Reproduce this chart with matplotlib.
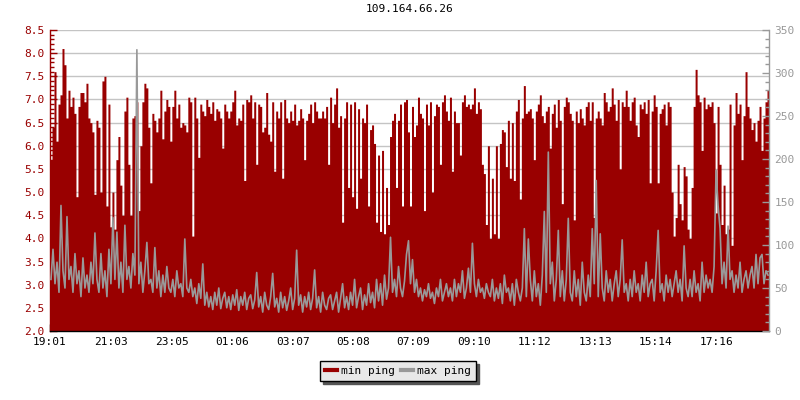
import matplotlib
matplotlib.use("Agg")
import matplotlib.pyplot as plt
from matplotlib.ticker import MultipleLocator, FormatStrFormatter
from matplotlib.lines import Line2D
import numpy as np

title = "109.164.66.26"
series_names = ["min ping", "max ping"]
tick_labels = ["19:01", "21:03", "23:05", "01:06", "03:07", "05:08",
               "07:09", "09:10", "11:12", "13:13", "15:14", "17:16"]
step_minutes = 4
span_minutes = 1440

min_ping = [
    5.7, 6.4, 7.6, 6.1, 6.9, 7.1, 8.1, 7.75, 6.6, 7.2,
    6.85, 7.05, 6.7, 4.9, 6.85, 7.15, 7.15, 6.95, 7.35, 6.6,
    6.5, 6.3, 4.95, 6.55, 6.4, 5.0, 7.4, 7.5, 4.7, 6.9,
    4.25, 5.0, 4.2, 5.7, 6.2, 5.15, 4.5, 6.75, 7.05, 5.6,
    4.5, 6.6, 6.65, 6.95, 4.6, 6.0, 6.95, 7.35, 7.25, 6.4,
    5.2, 6.7, 6.55, 6.3, 6.6, 7.2, 6.15, 6.75, 7.0, 6.85,
    6.1, 6.85, 7.2, 6.6, 6.9, 6.4, 6.5, 6.45, 6.3, 7.05,
    6.95, 4.05, 7.05, 6.6, 5.75, 6.9, 6.75, 6.65, 7.0, 6.85,
    6.7, 6.95, 6.55, 6.8, 6.75, 6.6, 5.95, 6.9, 6.75, 6.6,
    6.75, 6.95, 7.2, 6.45, 6.6, 6.55, 6.9, 5.25, 7.0, 6.95,
    7.1, 6.6, 6.95, 5.6, 6.9, 6.85, 6.3, 6.4, 7.15, 6.25,
    6.1, 6.95, 5.45, 6.75, 6.6, 6.95, 5.3, 7.0, 6.6, 6.5,
    6.75, 6.55, 6.9, 6.45, 6.55, 6.8, 6.6, 5.7, 6.55, 6.7,
    6.9, 6.5, 6.95, 6.75, 6.6, 6.6, 6.75, 6.6, 6.85, 5.6,
    7.05, 6.5, 6.9, 7.25, 6.4, 6.65, 4.35, 6.6, 6.95, 5.1,
    6.9, 4.9, 6.95, 4.65, 6.8, 5.3, 6.6, 6.5, 6.9, 4.7,
    6.35, 6.45, 6.05, 4.35, 5.8, 4.15, 5.9, 4.1, 5.1, 4.3,
    6.2, 6.55, 6.7, 5.1, 6.55, 6.9, 4.7, 6.95, 7.0, 6.3,
    4.7, 6.85, 6.2, 6.45, 7.05, 6.7, 6.6, 4.6, 6.9, 6.45,
    6.95, 5.0, 6.65, 6.9, 6.85, 5.6, 6.95, 7.1, 6.75, 6.55,
    7.05, 5.45, 6.75, 6.5, 6.5, 5.8, 6.95, 7.1, 6.85, 6.9,
    6.8, 6.9, 7.25, 6.7, 6.95, 6.8, 5.6, 5.4, 4.3, 6.0,
    4.0, 5.3, 4.1, 6.0, 4.0, 6.05, 6.35, 6.3, 5.55, 6.55,
    5.3, 6.5, 5.25, 6.75, 7.0, 4.85, 6.6, 7.3, 6.7, 6.75,
    6.8, 6.6, 5.7, 6.75, 6.9, 7.1, 6.65, 6.5, 6.75, 6.85,
    5.95, 6.7, 6.9, 6.4, 7.0, 6.55, 4.75, 6.85, 7.05, 6.95,
    6.7, 6.55, 4.4, 6.75, 6.5, 6.8, 6.6, 6.45, 6.85, 6.95,
    6.55, 6.95, 4.45, 6.6, 6.75, 6.6, 6.45, 7.15, 6.95, 6.75,
    6.85, 7.25, 6.9, 6.55, 7.0, 5.5, 6.95, 6.85, 7.2, 6.85,
    6.55, 6.95, 7.05, 6.45, 6.2, 6.9, 6.8, 6.95, 6.7, 7.0,
    5.2, 6.75, 7.1, 6.85, 5.2, 6.7, 6.8, 6.9, 6.45, 6.95,
    6.85, 5.0, 4.05, 4.45, 5.6, 4.75, 4.4, 5.55, 5.35, 4.2,
    4.0, 5.1, 6.85, 7.65, 7.1, 6.95, 5.9, 7.05, 6.8, 6.9,
    6.85, 6.95, 6.5, 4.55, 6.85, 5.6, 4.3, 5.15, 4.1, 4.2,
    6.9, 3.85, 6.45, 7.15, 6.7, 6.9, 5.7, 6.65, 7.6, 6.85,
    6.6, 6.35, 6.5, 6.1, 6.55, 6.85, 5.9, 6.6, 6.95, 7.2,
]

max_ping = [
    60, 95, 55, 80, 45, 146, 70, 50, 133, 60,
    75, 45, 90, 55, 70, 40, 85, 50, 65, 45,
    80, 55, 114, 60, 45, 90, 50, 70, 40, 95,
    55, 132, 60, 115, 50, 80, 45, 123, 60, 75,
    50, 90, 65, 327, 55, 80, 45, 70, 103, 55,
    60, 45, 97, 50, 70, 40, 65, 45, 75, 50,
    45, 60, 40, 70, 50, 55, 40, 107, 50, 45,
    60, 40, 50, 32, 55, 38, 78, 30, 45, 28,
    40, 25, 45, 30, 50, 26, 38, 45, 27, 40,
    25, 42, 30, 48, 24, 40, 30, 45, 25, 38,
    42, 26, 36, 68, 28, 40, 22, 45, 30, 25,
    40, 67, 28, 38, 22, 45, 27, 40, 24, 35,
    50, 25, 38, 94, 30, 42, 22, 40, 28, 45,
    25, 38, 71, 27, 40, 22, 45, 30, 25, 38,
    42, 25, 35, 45, 22, 38, 55, 27, 40, 25,
    45, 30, 60, 27, 40, 50, 25, 42, 30, 55,
    33, 45, 27, 60, 35, 55, 30, 65, 37, 50,
    109, 45, 60, 40, 75, 50, 40, 58, 89, 105,
    55, 83, 45, 60, 40, 50, 35, 48, 40, 55,
    38, 45, 32, 50, 40, 60, 35, 45, 55, 40,
    50, 35, 60, 40, 55, 45, 70, 38, 50, 73,
    45, 102, 55, 40, 60, 45, 50, 38, 55, 45,
    40, 60, 35, 50, 38, 55, 32, 65, 45, 50,
    35, 55, 30, 60, 45, 35, 50, 119, 40, 107,
    60, 35, 70, 40, 55, 30, 65, 139, 45, 208,
    55, 80, 35, 60, 117, 40, 70, 35, 60, 131,
    45, 35, 70, 40, 60, 30, 80, 45, 35, 65,
    40, 119, 55, 175, 40, 113, 50, 35, 70, 45,
    60, 35, 55, 70, 40, 60, 106, 45, 55, 35,
    60, 40, 70, 45, 55, 35, 65, 45, 80, 40,
    55, 60, 35, 70, 117, 45, 55, 35, 65, 45,
    60, 40, 55, 70, 45, 60, 35, 99, 50, 40,
    60, 40, 70, 45, 55, 35, 80, 45, 65, 50,
    60, 45, 75, 187, 146, 119, 55, 80, 50, 122,
    60, 70, 45, 65, 50, 80, 45, 60, 70, 50,
    65, 75, 50, 89, 55, 85, 89, 55, 70, 65,
]

RED = "#990000"
GRAY = "#999999"
FONT = "DejaVu Sans Mono"
FS = 8

plt.rcParams["font.family"] = [FONT]

x = np.arange(len(min_ping)) * step_minutes
xs = np.append(x, x[-1] + step_minutes)
ys = np.append(min_ping, min_ping[-1])

fig = plt.figure(figsize=(8, 4), dpi=100)
ax = fig.add_axes([50 / 800, 69 / 400, 719 / 800, 301 / 400])
ax.set_ylim(2.0, 8.5)
ax.set_xlim(0, span_minutes)

ax.set_axisbelow(True)
ax.yaxis.grid(True, color="#c4c4c4", linewidth=1.0)
ax.fill_between(xs, 2.0, ys, step="post", color=RED, linewidth=0, zorder=2)

ax2 = ax.twinx()
ax2.set_ylim(0, 350)
ax2.plot(x + step_minutes / 2, max_ping, color=GRAY, linewidth=1.2)


def to_minutes(lbl):
    h, m = lbl.split(":")
    return int(h) * 60 + int(m)


t0 = to_minutes(tick_labels[0])
tick_pos = [(to_minutes(l) - t0) % 1440 for l in tick_labels]
ax.set_xticks(tick_pos)
ax.set_xticklabels(tick_labels)
ax.tick_params(axis="x", direction="in", length=5, width=1, color="black",
               labelsize=FS, labelcolor="black", pad=4)

ax.yaxis.set_major_locator(MultipleLocator(0.5))
ax.yaxis.set_minor_locator(MultipleLocator(0.1))
ax.yaxis.set_major_formatter(FormatStrFormatter("%.1f"))
ax.tick_params(axis="y", which="major", direction="in", length=5, width=1,
               color=RED, labelcolor=RED, labelsize=FS, pad=4)
ax.tick_params(axis="y", which="minor", direction="in", length=3, width=1, color=RED)

ax2.yaxis.set_major_locator(MultipleLocator(50))
ax2.yaxis.set_minor_locator(MultipleLocator(10))
ax2.tick_params(axis="y", which="major", direction="in", length=5, width=1,
                color=GRAY, labelcolor=GRAY, labelsize=FS, pad=4)
ax2.tick_params(axis="y", which="minor", direction="in", length=3, width=1, color=GRAY)

for a in (ax, ax2):
    a.spines["top"].set_visible(False)
ax.spines["left"].set_color(RED)
ax.spines["left"].set_linewidth(1.0)
ax.spines["right"].set_visible(False)
ax2.spines["left"].set_visible(False)
ax2.spines["bottom"].set_visible(False)
ax2.spines["right"].set_color(GRAY)
ax2.spines["right"].set_linewidth(1.0)
ax.spines["bottom"].set_color("black")
ax.spines["bottom"].set_linewidth(1.0)

ax.set_title(title, fontsize=FS, color="black", pad=13)

handles = [Line2D([], [], color=RED, linewidth=3),
           Line2D([], [], color=GRAY, linewidth=3)]
leg = fig.legend(handles, series_names, loc="center", bbox_to_anchor=(0.4975, 0.0725),
                 ncol=2, fontsize=FS, frameon=True, fancybox=False,
                 shadow={"facecolor": "#555555", "edgecolor": "#555555", "alpha": 1},
                 handlelength=1.1, handletextpad=0.35, columnspacing=0.5,
                 borderpad=0.45, borderaxespad=0)
leg.get_frame().set_facecolor("#e8e8e8")
leg.get_frame().set_edgecolor("black")
leg.get_frame().set_linewidth(1.0)
leg.get_frame().set_alpha(1)

fig.savefig("out.png", dpi=100)
